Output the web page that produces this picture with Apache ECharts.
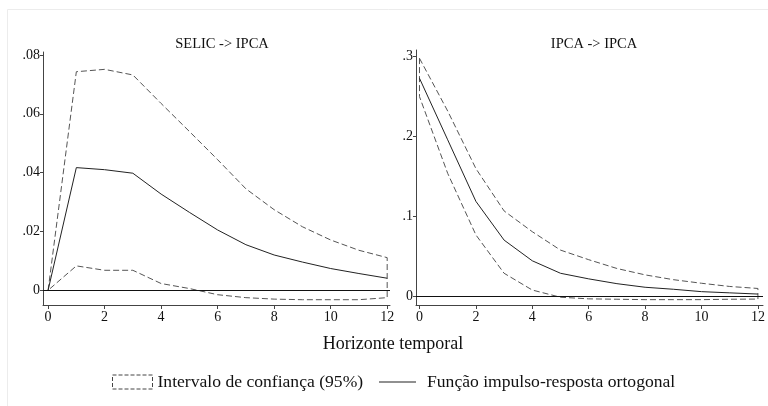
<!DOCTYPE html>
<html>
<head>
<meta charset="utf-8">
<script src="https://cdn.jsdelivr.net/npm/echarts@6/dist/echarts.min.js"></script>
<style>html,body{margin:0;padding:0;background:#fff}#c{width:768px;height:406px}</style>
</head>
<body>
<div id="c"></div>
<script>
// ---- data ----
var horizons = [0,1,2,3,4,5,6,7,8,9,10,11,12];
var xTicks = [0,2,4,6,8,10,12];

var selicIrf   = [0, 0.0417, 0.0410, 0.0398, 0.0327, 0.0265, 0.0205, 0.0155, 0.0120, 0.0096, 0.0074, 0.0057, 0.0041];
var selicUpper = [0, 0.0743, 0.0751, 0.0732, 0.0635, 0.0540, 0.0444, 0.0345, 0.0274, 0.0216, 0.0171, 0.0136, 0.0111];
var selicLower = [0, 0.0083, 0.0068, 0.0068, 0.0023, 0.0006, -0.0015, -0.0025, -0.0030, -0.0032, -0.0032, -0.0032, -0.0025];
var selicYTicks = [0, 0.02, 0.04, 0.06, 0.08];

var ipcaIrf   = [0.273, 0.196, 0.119, 0.0705, 0.0446, 0.029, 0.022, 0.016, 0.0115, 0.009, 0.006, 0.0045, 0.003];
var ipcaUpper = [0.298, 0.232, 0.160, 0.107, 0.081, 0.058, 0.046, 0.035, 0.027, 0.021, 0.0165, 0.0125, 0.0100];
var ipcaLower = [0.250, 0.154, 0.077, 0.029, 0.008, -0.001, -0.003, -0.0035, -0.004, -0.004, -0.004, -0.0035, -0.0033];
var ipcaYTicks = [0, 0.1, 0.2, 0.3];

var titles = ['SELIC -> IPCA', 'IPCA -> IPCA'];
var xTitle = 'Horizonte temporal';
var nameCI = 'Intervalo de confiança (95%)';
var nameIRF = 'Função impulso-resposta ortogonal';

// ---- helpers ----
function band(up, lo) {
  var pts = [];
  for (var i = 0; i < horizons.length; i++) pts.push([horizons[i], up[i]]);
  for (var j = horizons.length - 1; j >= 0; j--) pts.push([horizons[j], lo[j]]);
  pts.push([horizons[0], up[0]]);
  return pts;
}
function pairs(v) { return horizons.map(function (h, i) { return [h, v[i]]; }); }
function fmt(v) {
  if (Math.abs(v) < 1e-12) return '0';
  return String(+v.toFixed(4)).replace(/^0\./, '.').replace(/^-0\./, '-.');
}
var FONT = 'Liberation Serif';
var axisCol = '#444';

function xAxisDef(idx, min, max) {
  return {
    type: 'value', gridIndex: idx, min: min, max: max,
    axisLine: { show: true, onZero: false, lineStyle: { color: axisCol, width: 1 } },
    axisTick: { show: true, length: 4, customValues: xTicks, lineStyle: { color: axisCol } },
    axisLabel: { customValues: xTicks, fontFamily: FONT, fontSize: 14, color: '#111', margin: 5 },
    splitLine: { show: false }
  };
}
function yAxisDef(idx, min, max, ticks) {
  return {
    type: 'value', gridIndex: idx, min: min, max: max,
    axisLine: { show: true, onZero: false, lineStyle: { color: axisCol, width: 1 } },
    axisTick: { show: true, length: 3, customValues: ticks, lineStyle: { color: axisCol } },
    axisLabel: { customValues: ticks, fontFamily: FONT, fontSize: 14, color: '#111', margin: 3, formatter: fmt },
    splitLine: { show: false }
  };
}
function ciSeries(idx, up, lo) {
  return {
    name: nameCI, type: 'line', xAxisIndex: idx, yAxisIndex: idx,
    data: band(up, lo), symbol: 'none', silent: true,
    lineStyle: { color: '#555', width: 1, type: [6, 3] },
    itemStyle: { color: '#555' }
  };
}
function irfSeries(idx, v) {
  return {
    name: nameIRF, type: 'line', xAxisIndex: idx, yAxisIndex: idx,
    data: pairs(v), symbol: 'none', silent: true,
    lineStyle: { color: '#222', width: 1 },
    itemStyle: { color: '#222' },
    markLine: {
      silent: true, symbol: 'none', label: { show: false },
      lineStyle: { color: '#111', width: 1, type: 'solid' },
      data: [{ yAxis: 0 }]
    }
  };
}

var chart = echarts.init(document.getElementById('c'), null, { renderer: 'canvas' });
chart.setOption({
  backgroundColor: '#fff',
  animation: false,
  graphic: [{
    type: 'rect', shape: { x: 7.5, y: 9.5, width: 800, height: 420 },
    style: { fill: 'none', stroke: '#ececec', lineWidth: 1 }, silent: true
  }],
  title: [
    { text: titles[0], left: 217, top: 32, textAlign: 'center',
      textStyle: { fontFamily: FONT, fontSize: 14.5, fontWeight: 'normal', color: '#111' } },
    { text: titles[1], left: 589, top: 32, textAlign: 'center',
      textStyle: { fontFamily: FONT, fontSize: 14.5, fontWeight: 'normal', color: '#111' } },
    { text: xTitle, left: 388, top: 330, textAlign: 'center',
      textStyle: { fontFamily: FONT, fontSize: 18, fontWeight: 'normal', color: '#111' } }
  ],
  legend: [
    { data: [{ name: nameCI, icon: 'rect',
               itemStyle: { color: '#fff', borderColor: '#444', borderWidth: 1, borderType: 'dashed' } }],
      left: 107, top: 368, itemWidth: 40, itemHeight: 14, selectedMode: false,
      textStyle: { fontFamily: FONT, fontSize: 17.6, color: '#111' } },
    { data: [{ name: nameIRF, icon: 'rect', itemStyle: { color: '#222' } }],
      left: 374, top: 368, itemWidth: 37, itemHeight: 1, selectedMode: false,
      textStyle: { fontFamily: FONT, fontSize: 17.6, color: '#111', padding: [0, 0, 0, 6] } }
  ],
  grid: [
    { left: 43, top: 52, width: 347, height: 253 },
    { left: 416, top: 50, width: 347, height: 255 }
  ],
  xAxis: [xAxisDef(0, -0.18, 12.1), xAxisDef(1, -0.124, 12.18)],
  yAxis: [yAxisDef(0, -0.005, 0.081, selicYTicks), yAxisDef(1, -0.0107, 0.3084, ipcaYTicks)],
  series: [
    ciSeries(0, selicUpper, selicLower),
    irfSeries(0, selicIrf),
    ciSeries(1, ipcaUpper, ipcaLower),
    irfSeries(1, ipcaIrf)
  ]
});
</script>
</body>
</html>
